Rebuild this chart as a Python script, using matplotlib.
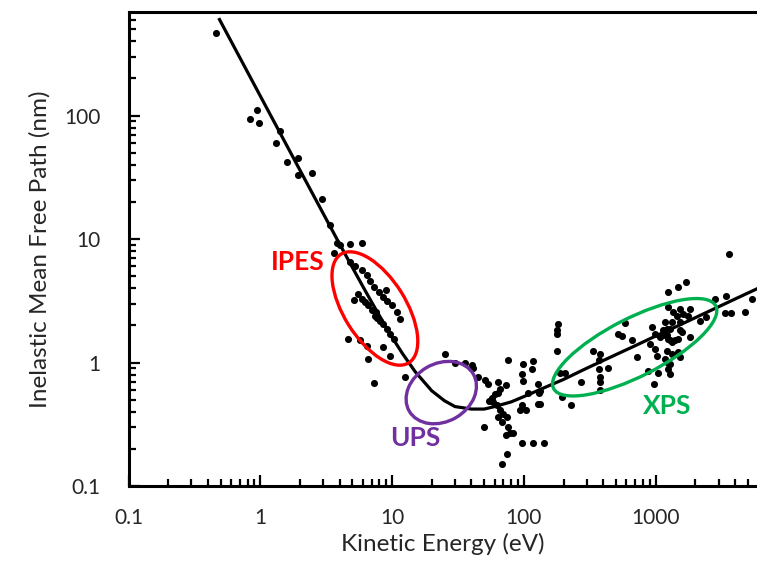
#!/usr/bin/env python3
"""
Universal curve: inelastic mean free path vs kinetic energy, with IPES/UPS/XPS regions.
"""

import matplotlib

matplotlib.use("Agg")
import matplotlib.pyplot as plt
from matplotlib.patches import Ellipse
from matplotlib.transforms import ScaledTranslation
from matplotlib.ticker import FixedLocator, FixedFormatter, LogLocator, NullFormatter

# measured points (eV, nm)
energy = [
    0.46, 0.94, 0.83, 0.97, 1.41, 1.32, 1.60, 1.94, 1.94, 2.45, 2.92, 3.38, 3.80,
    3.64, 4.03, 4.79, 5.88, 4.79, 5.23, 5.88, 6.42, 6.80, 7.29, 8.00, 9.00, 8.58,
    9.20, 9.93, 10.8, 11.5,
    5.54, 5.14, 5.88, 6.23, 6.60, 7.00, 7.41, 7.72, 8.09, 8.58, 9.10, 9.64, 10.3, 7.52,
    4.65, 5.71, 6.42, 8.58, 6.60, 9.64, 12.5, 7.29,
    25.2, 30.0, 35.7, 40.1, 45.1, 50.6, 53.7, 64.0, 50.0, 41.3,
    76.2, 99.0, 118, 115, 96.0, 99.0, 73.2, 177, 179, 205,
    54.2, 57.0, 60.4, 64.0, 65.9, 58.6, 62.1, 65.9, 69.8, 64.0, 67.9, 74.1,
    76.2, 78.5, 83.2, 73.2, 74.1, 67.9, 96.0, 118, 142, 93.4, 104, 96.0, 108, 129, 131, 129,
    182, 177, 133, 133, 188, 193, 227, 270, 337, 378, 373, 373, 437, 378, 378, 378,
    585, 521, 552, 658, 718, 879,
    3570, 1698, 1486, 1248, 2818, 3412, 5350, 3357, 3706, 4757, 2168, 2410,
    1820, 1528, 1248, 1361, 1442, 1622, 1770, 1528, 1321, 1177,
    933, 1143, 1211, 1284, 1528, 1574, 1820, 1486,
    988, 1079, 1143, 1211, 1248, 1284, 1321, 1400,
    907, 991, 1019, 1211, 1321, 1177, 1248, 1284, 1486, 1528,
    1248, 1284, 1050, 973,
]
imfp = [
    463, 111, 94, 87, 75, 60, 42, 45, 33, 34, 21, 13.0, 9.3,
    7.7, 8.9, 9.1, 9.3, 6.5, 6.1, 5.65, 5.1, 4.6, 4.1, 3.7, 3.84, 3.39,
    3.18, 2.90, 2.56, 2.26,
    3.61, 3.22, 3.29, 3.08, 2.90, 2.64, 2.40, 2.31, 2.19, 2.06, 1.88, 1.71, 1.56, 2.56,
    1.56, 1.51, 1.35, 1.33, 1.07, 1.14, 0.76, 0.68,
    1.18, 1.00, 1.00, 0.95, 0.76, 0.72, 0.67, 0.69, 0.30, 0.91,
    1.04, 0.975, 1.03, 0.89, 0.81, 0.71, 0.66, 1.71, 1.25, 0.83,
    0.49, 0.52, 0.56, 0.57, 0.61, 0.48, 0.45, 0.41, 0.38, 0.36, 0.33, 0.36,
    0.30, 0.27, 0.27, 0.26, 0.18, 0.15, 0.222, 0.222, 0.222, 0.41, 0.41, 0.45, 0.57, 0.67, 0.57, 0.46,
    2.06, 1.82, 0.59, 0.46, 0.82, 0.53, 0.45, 0.70, 1.25, 1.18, 1.04, 0.89, 0.91, 0.76, 0.70, 0.60,
    2.08, 1.71, 1.63, 1.53, 1.10, 0.86,
    7.62, 4.48, 4.08, 3.72, 3.29, 3.49, 3.29, 2.51, 2.51, 2.56, 2.19, 2.33,
    2.73, 2.73, 2.81, 2.56, 2.40, 2.48, 2.40, 2.12, 2.12, 2.12,
    1.93, 1.82, 1.88, 1.88, 1.82, 1.76, 1.60, 1.56,
    1.71, 1.60, 1.66, 1.66, 1.56, 1.51, 1.46, 1.51,
    1.42, 1.29, 1.14, 1.25, 1.18, 1.07, 1.00, 0.98, 1.21, 1.10,
    0.89, 0.81, 0.83, 0.67,
]

# universal curve
curve_e = [0.49, 0.7, 1, 1.5, 2, 3, 4, 5, 6, 7, 8, 10, 12, 15, 20, 25, 30, 40, 50,
           60, 80, 100, 150, 200, 300, 500, 700, 1000, 1500, 2000, 3000, 4000, 6000]
curve_l = [600, 294, 144, 64.1, 36.1, 16.1, 9.10, 5.88, 4.13, 3.08, 2.40, 1.60, 1.18,
           0.84, 0.59, 0.49, 0.44, 0.42, 0.42, 0.44, 0.48, 0.53, 0.64, 0.73, 0.90,
           1.16, 1.37, 1.64, 2.00, 2.31, 2.83, 3.27, 4.00]

x_ticks = [0.1, 1, 10, 100, 1000]
x_labels = ["0.1", "1", "10", "100", "1000"]
y_ticks = [0.1, 1, 10, 100]
y_labels = ["0.1", "1", "10", "100"]

# regions: name, colour, ellipse centre (eV, nm), size (in), angle, label position
regions = [
    ("IPES", "#ff0000", (7.4, 2.74), (1.28, 0.62), 122, (1.93, 6.47)),
    ("UPS", "#7030a0", (23.6, 0.571), (0.74, 0.58), 30, (14.9, 0.246)),
    ("XPS", "#00b050", (693, 1.33), (1.82, 0.58), 27, (1216, 0.448)),
]

plt.rcParams["font.family"] = ["Lato", "DejaVu Sans"]

fig = plt.figure(figsize=(7.57, 5.62), dpi=100)
ax = fig.add_axes([0.1698, 0.1352, 0.8302, 0.8434])
ax.set_xscale("log")
ax.set_yscale("log")
ax.set_xlim(0.1, 5870)
ax.set_ylim(0.1, 690)

ax.plot(curve_e, curve_l, color="black", lw=2.3, zorder=3)
ax.scatter(energy, imfp, s=26, color="black", linewidths=0, zorder=4)

for name, col, (xc, yc), (w, h), ang, (tx, ty) in regions:
    ell = Ellipse((0, 0), w, h, angle=ang, fill=False, edgecolor=col, lw=2.4,
                  transform=fig.dpi_scale_trans + ScaledTranslation(xc, yc, ax.transData),
                  zorder=5)
    ax.add_patch(ell)
    ax.text(tx, ty, name, color=col, fontsize=19, fontweight="bold",
            ha="center", va="center", zorder=6)

ax.spines["right"].set_visible(False)
for s in ("left", "bottom", "top"):
    ax.spines[s].set_linewidth(2.2)

ax.xaxis.set_major_locator(FixedLocator(x_ticks))
ax.xaxis.set_major_formatter(FixedFormatter(x_labels))
ax.yaxis.set_major_locator(FixedLocator(y_ticks))
ax.yaxis.set_major_formatter(FixedFormatter(y_labels))
for axis in (ax.xaxis, ax.yaxis):
    axis.set_minor_locator(LogLocator(base=10, subs=range(2, 10)))
    axis.set_minor_formatter(NullFormatter())

ax.tick_params(which="both", direction="in", width=1.6, top=False, right=False,
               labelsize=15, colors="black")
ax.tick_params(which="major", length=8)
ax.tick_params(which="minor", length=5)
ax.tick_params(axis="x", which="major", pad=16)
ax.tick_params(axis="y", which="major", pad=20)
for lab in ax.get_xticklabels() + ax.get_yticklabels():
    lab.set_color("#262626")

ax.set_xlabel("Kinetic Energy (eV)", fontsize=17.5, labelpad=3, color="#262626")
ax.set_ylabel("Inelastic Mean Free Path (nm)", fontsize=17.5, labelpad=10, color="#262626")

fig.savefig("out.png", dpi=100)
plt.close(fig)
